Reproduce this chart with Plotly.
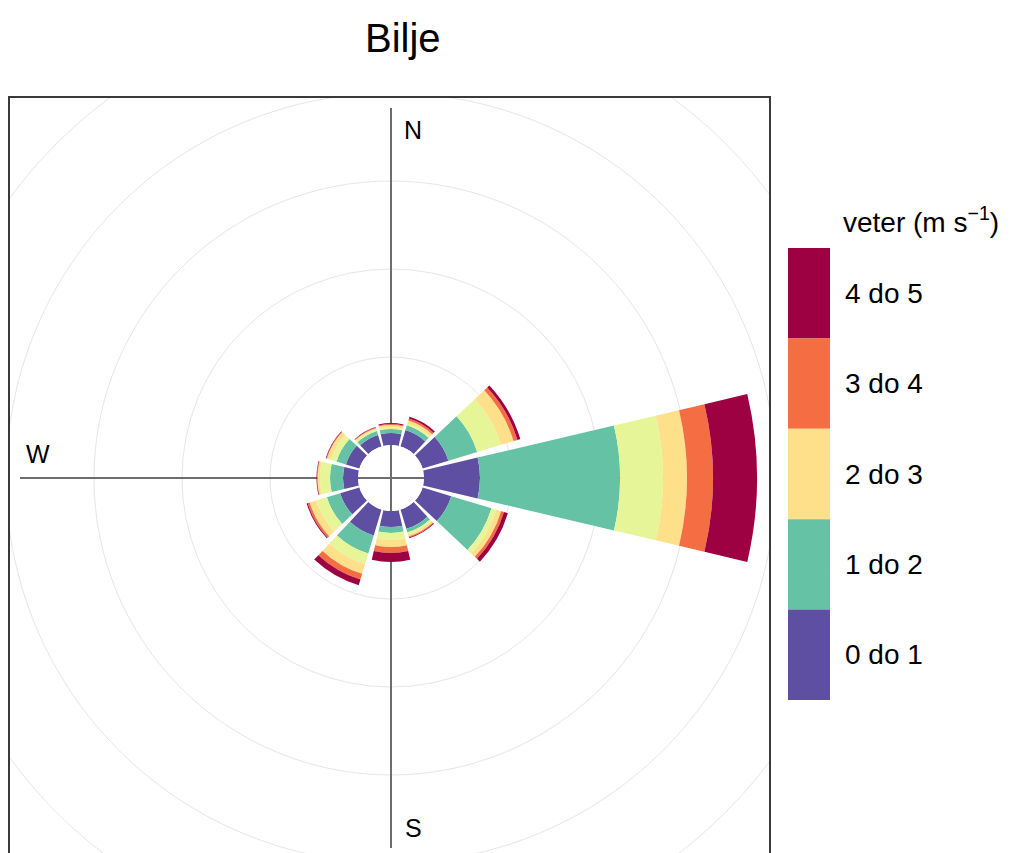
import plotly.graph_objects as go

# ---------------- data ----------------
directions = [0, 30, 60, 90, 120, 150, 180, 210, 240, 270, 300, 330]

# frequency (%) of each speed band per direction (stacked outward)
freq_0_1  = [0.68, 0.97, 1.53, 3.18, 1.70, 1.14, 0.91, 1.53, 1.14, 0.85, 0.80, 0.68]
freq_1_2  = [0.23, 0.28, 1.71, 7.96, 2.39, 0.22, 0.34, 1.08, 0.79, 0.74, 0.56, 0.23]
freq_2_3a = [0.11, 0.11, 1.42, 2.44, 0.29, 0.12, 0.40, 0.63, 0.63, 0.57, 0.34, 0.11]
freq_2_3b = [0.12, 0.17, 0.74, 1.36, 0.28, 0.11, 0.40, 0.57, 0.39, 0.14, 0.23, 0.06]
freq_3_4  = [0.05, 0.12, 0.23, 1.48, 0.17, 0.06, 0.34, 0.34, 0.12, 0.03, 0.04, 0.04]
freq_4_5  = [0.06, 0.11, 0.17, 2.50, 0.23, 0.05, 0.51, 0.34, 0.06, 0.03, 0.03, 0.03]

rose_series = [freq_0_1, freq_1_2, freq_2_3a, freq_2_3b, freq_3_4, freq_4_5]
rose_colors = ["#5e4fa2", "#66c2a5", "#e6f598", "#fee08b", "#f46d43", "#9e0142"]

legend_labels = ["4 do 5", "3 do 4", "2 do 3", "1 do 2", "0 do 1"]
legend_colors = ["#9e0142", "#f46d43", "#fee08b", "#66c2a5", "#5e4fa2"]

grid_values = [5, 10, 15, 20, 25]
compass_labels = ["N", "W", "S"]

title_text = "Bilje"
legend_title = "veter (m s<sup>\u22121</sup>)"

# ---------------- layout geometry ----------------
W, H = 1021, 853
cx, cy = 391, 478           # centre of rose (px)
R_px = 370                  # polar radius (px)
hole_px = 33                # inner hole radius (px)
px_per_unit = 17.6          # px per 1 %
r_max = (R_px - hole_px) / px_per_unit

box_l, box_r, box_t = 10, 769, 98
FONT = "Liberation Sans, Arial, sans-serif"

fig = go.Figure()

# invisible cartesian trace to create the box axes (pixel units relative to centre)
fig.add_trace(go.Scatter(x=[0], y=[0], mode="markers", marker=dict(opacity=0),
                         showlegend=False, hoverinfo="skip", xaxis="x", yaxis="y"))

for vals, col in zip(rose_series, rose_colors):
    fig.add_trace(go.Barpolar(r=vals, theta=directions, width=26.5,
                              marker=dict(color=col, line=dict(width=0)),
                              showlegend=False, hoverinfo="skip"))

shapes = []
# grid circles
for g in grid_values:
    rr = hole_px + g * px_per_unit
    shapes.append(dict(type="circle", xref="x", yref="y", x0=-rr, x1=rr, y0=-rr, y1=rr,
                       line=dict(color="#e6e6e6", width=1), layer="below"))
# crosshair
shapes.append(dict(type="line", xref="x", yref="y", x0=-371, x1=340, y0=0, y1=0,
                   line=dict(color="#6e6e6e", width=2), layer="below"))
shapes.append(dict(type="line", xref="x", yref="y", x0=0, x1=0, y0=-370, y1=370,
                   line=dict(color="#6e6e6e", width=2), layer="below"))

# legend colour boxes
leg_top, leg_step = 248, 90.4
for i, col in enumerate(legend_colors):
    y0 = leg_top + i * leg_step
    shapes.append(dict(type="rect", xref="paper", yref="paper",
                       x0=788 / W, x1=830 / W,
                       y0=1 - (y0 + leg_step) / H, y1=1 - y0 / H,
                       fillcolor=col, line=dict(width=0)))

annotations = []
for i, lab in enumerate(legend_labels):
    yc = leg_top + (i + 0.5) * leg_step
    annotations.append(dict(text=lab, xref="paper", yref="paper", x=843 / W, y=1 - yc / H,
                            xanchor="left", yanchor="middle", showarrow=False,
                            font=dict(size=28, color="#000", family=FONT)))
annotations.append(dict(text=legend_title, xref="paper", yref="paper", x=841 / W, y=1 - 220 / H,
                        xanchor="left", yanchor="middle", showarrow=False,
                        font=dict(size=28, color="#000", family=FONT)))

label_pos = {"N": (413, 130), "W": (38, 454), "S": (413, 828)}
for lab in compass_labels:
    px, py = label_pos[lab]
    annotations.append(dict(text=lab, xref="paper", yref="paper", x=px / W, y=1 - py / H,
                            xanchor="center", yanchor="middle", showarrow=False,
                            font=dict(size=25, color="#000", family=FONT)))

annotations.append(dict(text=title_text, xref="paper", yref="paper", x=403 / W, y=1 - 38 / H,
                        xanchor="center", yanchor="middle", showarrow=False,
                        font=dict(size=40, color="#000", family=FONT)))

fig.update_layout(
    width=W, height=H,
    margin=dict(l=0, r=0, t=0, b=0),
    paper_bgcolor="white", plot_bgcolor="rgba(0,0,0,0)",
    showlegend=False,
    xaxis=dict(domain=[box_l / W, box_r / W], range=[box_l - cx, box_r - cx],
               side="top", showline=True, linecolor="#3a3a3a", linewidth=2,
               showgrid=False, zeroline=False, showticklabels=False, ticks="",
               fixedrange=True),
    yaxis=dict(domain=[0, (H - box_t) / H], range=[-(H - cy), cy - box_t],
               showline=True, mirror=True, linecolor="#3a3a3a", linewidth=2,
               showgrid=False, zeroline=False, showticklabels=False, ticks="",
               fixedrange=True),
    polar=dict(
        domain=dict(x=[(cx - R_px) / W, (cx + R_px) / W],
                    y=[(H - cy - R_px) / H, (H - cy + R_px) / H]),
        bgcolor="rgba(0,0,0,0)",
        hole=hole_px / R_px,
        barmode="stack",
        radialaxis=dict(range=[0, r_max], visible=False, showgrid=False),
        angularaxis=dict(rotation=90, direction="clockwise", visible=False,
                         showgrid=False, showline=False),
    ),
    shapes=shapes,
    annotations=annotations,
)

fig.write_html("out.html", config={"displayModeBar": False, "staticPlot": True},
               post_script="document.body.style.margin='0px';document.body.style.overflow='hidden';")
